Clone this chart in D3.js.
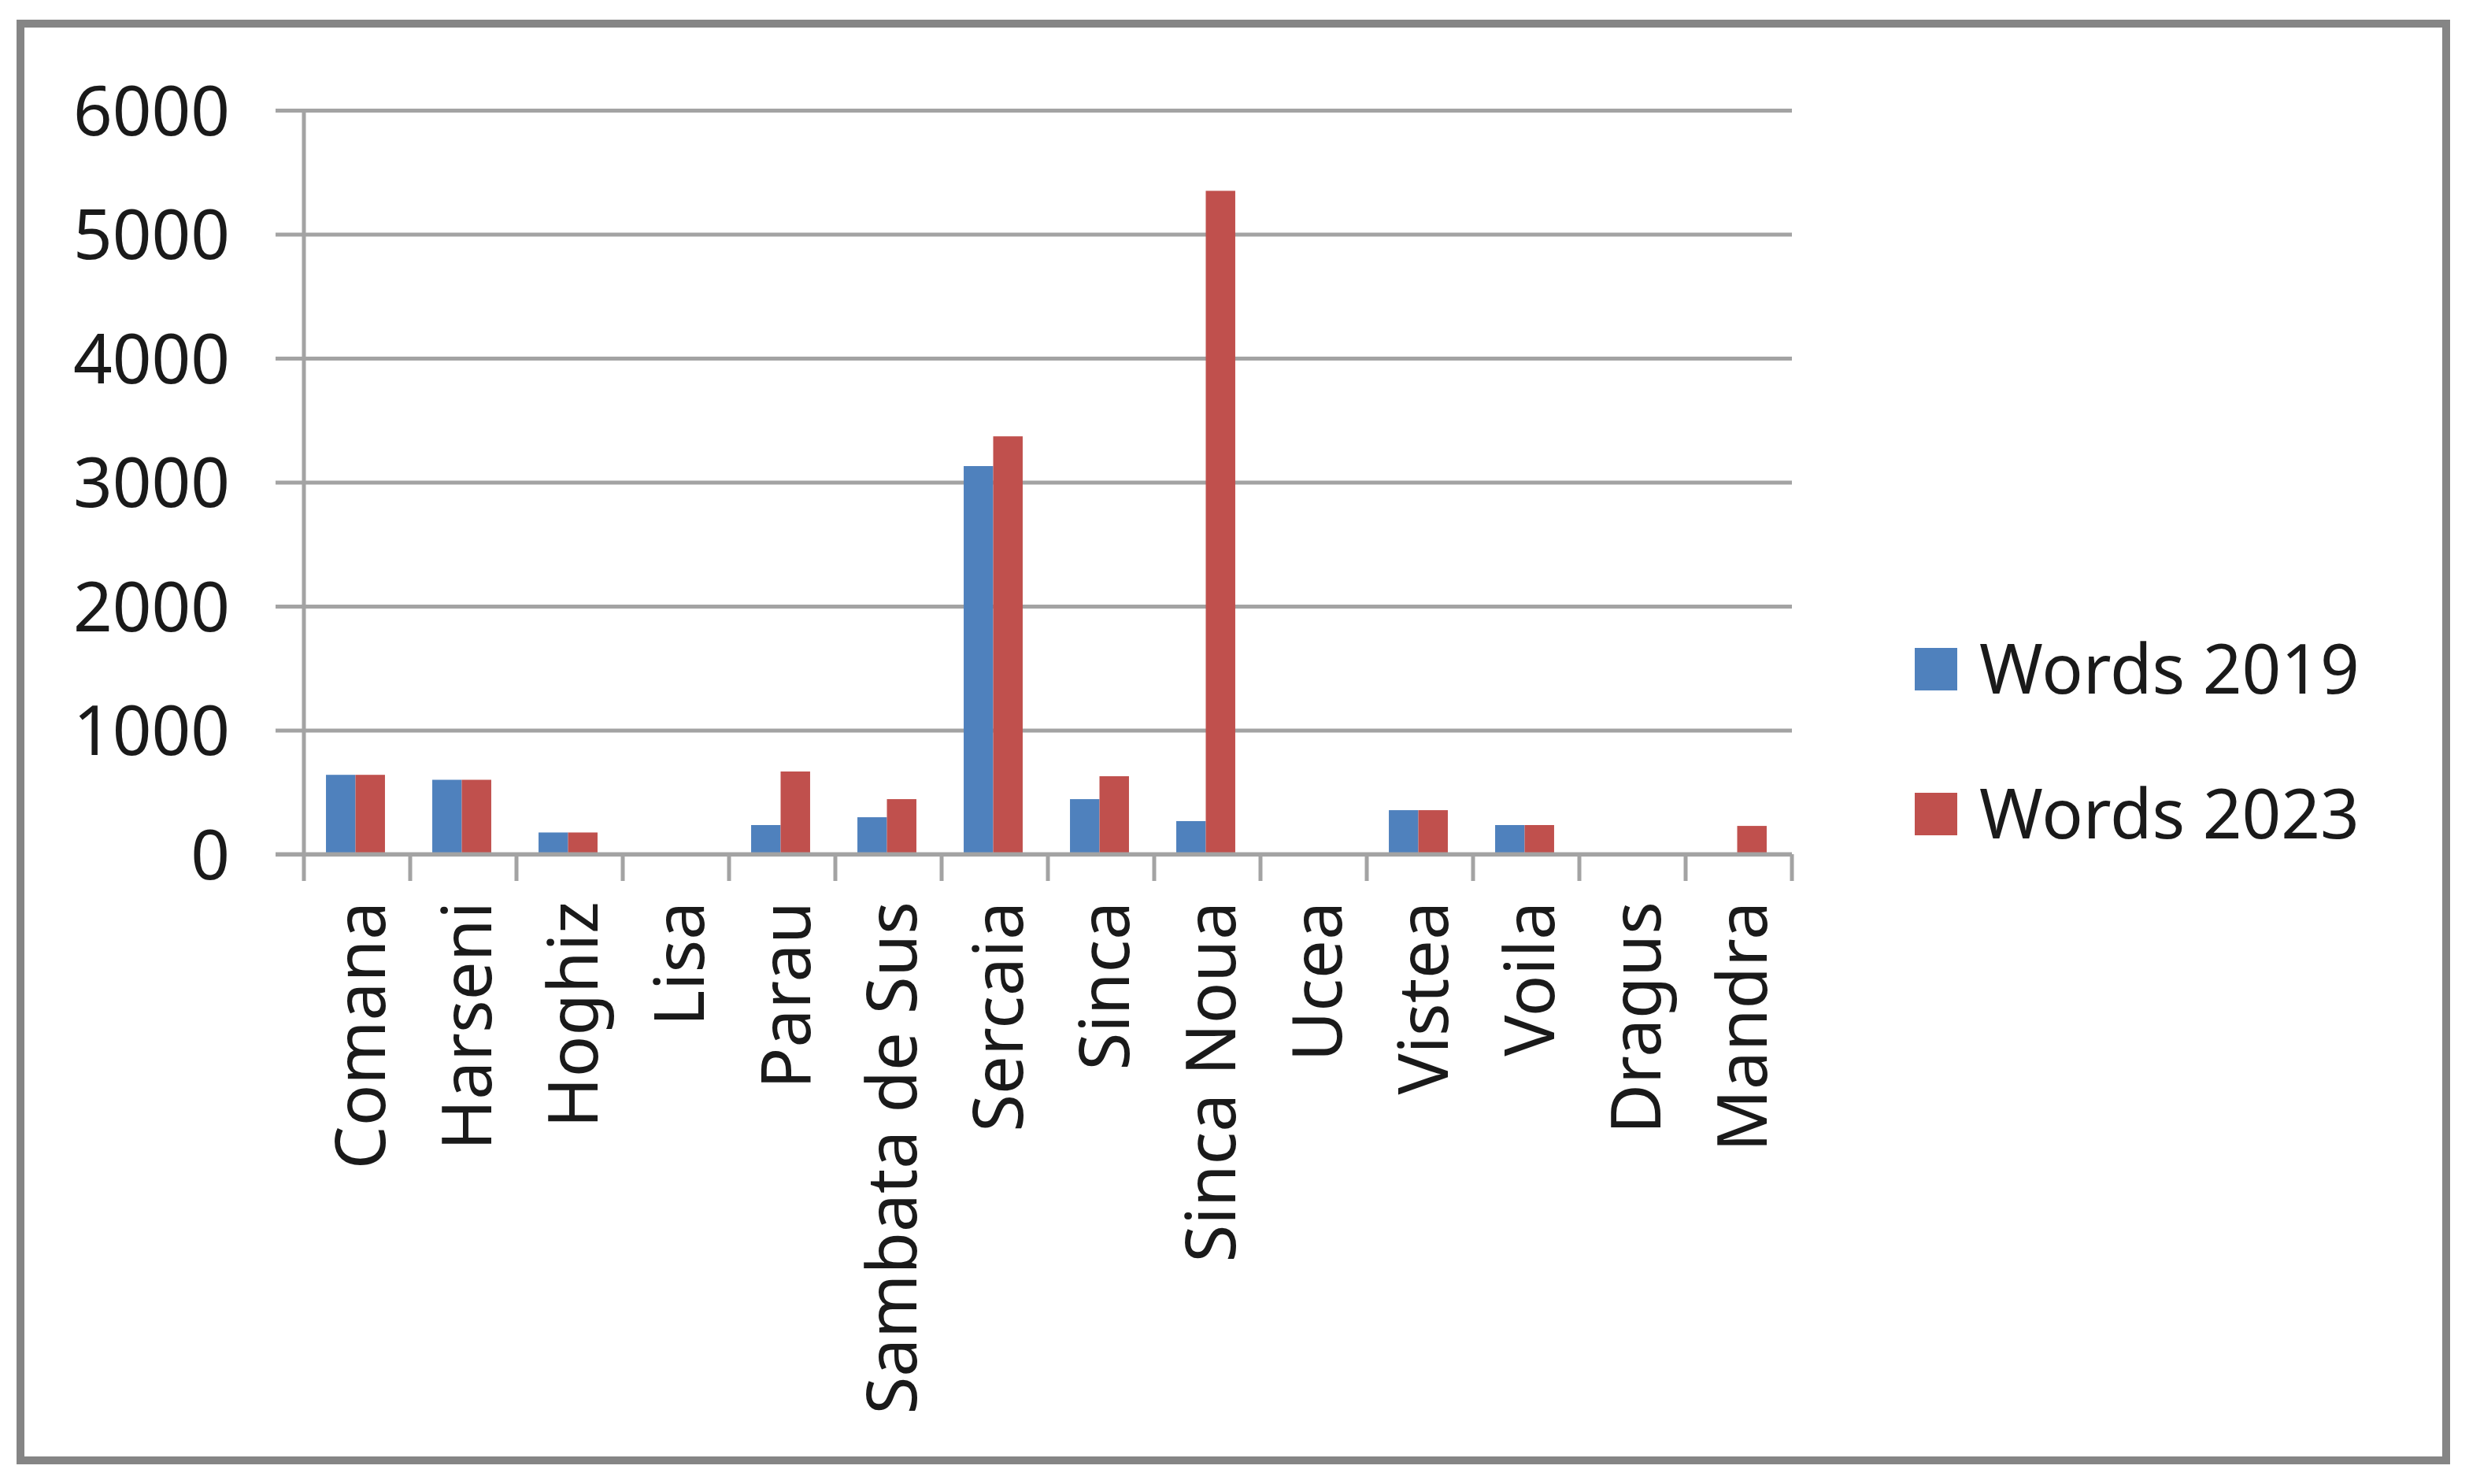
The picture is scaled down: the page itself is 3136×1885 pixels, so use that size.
<!DOCTYPE html>
<html>
<head>
<meta charset="utf-8">
<script src="https://cdn.jsdelivr.net/npm/d3@7"></script>
<style>
  html, body { margin: 0; padding: 0; background: #fff; }
  svg { display: block; }
  text { font-family: "Noto Sans", "Open Sans", sans-serif; fill: #1a1a1a; }
</style>
</head>
<body>
<div id="chart"></div>
<script>
const FRAME_WIDTH = 3136;
const FRAME_HEIGHT = 1885;
const MARGINS = { left: 386, right: 3136 - 2276, top: 140, bottom: 1885 - 1085 };

const VIS_WIDTH = FRAME_WIDTH - MARGINS.left - MARGINS.right;
const VIS_HEIGHT = FRAME_HEIGHT - MARGINS.top - MARGINS.bottom;

// data
const VILLAGES = ["Comana", "Harseni", "Hoghiz", "Lisa", "Parau", "Sambata de Sus",
  "Sercaia", "Sinca", "Sinca Noua", "Ucea", "Vistea", "Voila", "Dragus", "Mandra"];
const WORDS_2019 = [640, 600, 175, 0, 235, 298, 3130, 444, 267, 0, 355, 235, 0, 0];
const WORDS_2023 = [640, 600, 175, 0, 667, 444, 3370, 629, 5350, 0, 355, 235, 0, 228];
const SERIES = ["Words 2019", "Words 2023"];
const Y_TICKS = [0, 1000, 2000, 3000, 4000, 5000, 6000];

const SERIES_COLOR = { "Words 2019": "#4f81bd", "Words 2023": "#c0504d" };
const GRID_COLOR = "#a3a3a3";
const FONT_SIZE = 87;

const ROWS = VILLAGES.map((v, i) => ({
  village: v,
  values: [
    { series: SERIES[0], value: WORDS_2019[i] },
    { series: SERIES[1], value: WORDS_2023[i] },
  ],
}));

const FRAME = d3
  .select("#chart")
  .append("svg")
  .attr("width", FRAME_WIDTH)
  .attr("height", FRAME_HEIGHT);

FRAME.append("rect")
  .attr("width", FRAME_WIDTH)
  .attr("height", FRAME_HEIGHT)
  .attr("fill", "#fff");

// outer border of the picture
FRAME.append("rect")
  .attr("x", 26)
  .attr("y", 30)
  .attr("width", 3107 - 26)
  .attr("height", 1855 - 30)
  .attr("fill", "none")
  .attr("stroke", "#858585")
  .attr("stroke-width", 10);

const X_SCALE = d3.scaleBand().domain(VILLAGES).range([0, VIS_WIDTH]);
const X_INNER = d3
  .scaleBand()
  .domain(SERIES)
  .range([0, X_SCALE.bandwidth() * 0.555])
  .padding(0);
const Y_SCALE = d3.scaleLinear().domain([0, 6000]).range([VIS_HEIGHT, 0]);

const PLOT = FRAME.append("g")
  .attr("transform", `translate(${MARGINS.left},${MARGINS.top})`);

// horizontal gridlines, with the tick stub left of the axis
const yAxis = PLOT.append("g")
  .call(
    d3.axisLeft(Y_SCALE)
      .tickValues(Y_TICKS)
      .tickFormat(d3.format("d"))
      .tickSize(-VIS_WIDTH)
      .tickSizeOuter(0)
  );
yAxis.select(".domain").remove();
yAxis.selectAll(".tick line")
  .attr("x1", -36)
  .attr("stroke", GRID_COLOR)
  .attr("stroke-width", 5);
yAxis.selectAll(".tick text")
  .attr("font-size", FONT_SIZE)
  .attr("font-family", "Noto Sans")
  .attr("fill", "#1a1a1a")
  .attr("dy", "0.36em")
  .attr("x", -94);

// bars
const groups = PLOT.selectAll(".village")
  .data(ROWS)
  .enter()
  .append("g")
  .attr("class", "village")
  .attr("transform", (d) =>
    `translate(${X_SCALE(d.village) + (X_SCALE.bandwidth() - X_INNER.range()[1]) / 2 - 2},0)`);

groups.selectAll("rect")
  .data((d) => d.values.filter((v) => v.value > 0))
  .enter()
  .append("rect")
  .attr("x", (d) => X_INNER(d.series))
  .attr("y", (d) => Y_SCALE(d.value))
  .attr("width", X_INNER.bandwidth())
  .attr("height", (d) => VIS_HEIGHT - Y_SCALE(d.value))
  .attr("fill", (d) => SERIES_COLOR[d.series]);

// y axis line
PLOT.append("line")
  .attr("x1", 0)
  .attr("x2", 0)
  .attr("y1", Y_SCALE(6000))
  .attr("y2", VIS_HEIGHT + 34)
  .attr("stroke", GRID_COLOR)
  .attr("stroke-width", 5);

// x axis: baseline, tick marks between categories
PLOT.append("line")
  .attr("x1", -36)
  .attr("x2", VIS_WIDTH)
  .attr("y1", VIS_HEIGHT)
  .attr("y2", VIS_HEIGHT)
  .attr("stroke", GRID_COLOR)
  .attr("stroke-width", 5);

PLOT.selectAll(".xtick")
  .data(VILLAGES.slice(1).concat(["end"]))
  .enter()
  .append("line")
  .attr("class", "xtick")
  .attr("x1", (d, i) => (i + 1) * X_SCALE.step())
  .attr("x2", (d, i) => (i + 1) * X_SCALE.step())
  .attr("y1", VIS_HEIGHT)
  .attr("y2", VIS_HEIGHT + 34)
  .attr("stroke", GRID_COLOR)
  .attr("stroke-width", 5);

// rotated category labels
PLOT.selectAll(".xlabel")
  .data(VILLAGES)
  .enter()
  .append("text")
  .attr("class", "xlabel")
  .attr("transform", (d) =>
    `translate(${X_SCALE(d) + X_SCALE.bandwidth() / 2 + 4},${VIS_HEIGHT + 60}) rotate(-90)`)
  .attr("text-anchor", "end")
  .attr("dy", "0.36em")
  .attr("font-size", FONT_SIZE)
  .text((d) => d);

// legend
const LEGEND = FRAME.append("g").attr("transform", "translate(2432,850)");
const items = LEGEND.selectAll(".item")
  .data(SERIES)
  .enter()
  .append("g")
  .attr("class", "item")
  .attr("transform", (d, i) => `translate(0,${i * 184})`);

items.append("rect")
  .attr("x", 0)
  .attr("y", -27)
  .attr("width", 54)
  .attr("height", 54)
  .attr("fill", (d) => SERIES_COLOR[d]);

items.append("text")
  .attr("x", 82)
  .attr("dy", "0.36em")
  .attr("font-size", FONT_SIZE)
  .text((d) => d);
</script>
</body>
</html>
